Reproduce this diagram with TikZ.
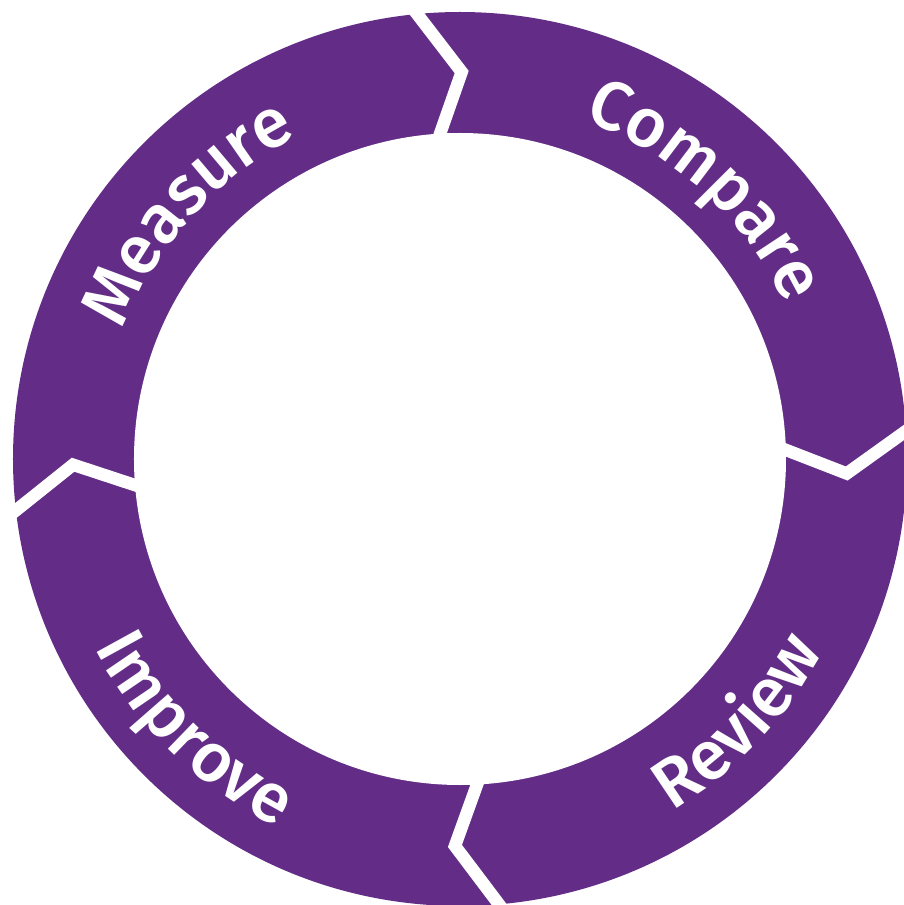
\documentclass[tikz,border=0pt]{standalone}
\usepackage{fontspec}
\setmainfont{Fira Sans Medium}
\usetikzlibrary{decorations.text,calc}
\definecolor{ringpurple}{HTML}{632D87}
\begin{document}
\begin{tikzpicture}[x=1pt,y=1pt,
  sepline/.style={white,line width=12.5pt,line join=miter},
  ringtext/.style={decorate,decoration={text along path,text align=center,
    text={|\fontsize{69}{69}\selectfont\color{white}|#1}}}]
\useasboundingbox (-460,-446) rectangle (443,459);
\fill[ringpurple] (0,0) circle (447);
\fill[white] (0,0) circle (326);
\foreach \p/\n in {93.5/t,1.6/r,273/b,184.6/l}{
  \coordinate (o\n) at (\p+2:447);
  \coordinate (a\n) at (\p-3.75:387);
  \coordinate (i\n) at (\p:326);
  \draw[sepline] ($(a\n)!1.5!(o\n)$) -- (a\n) -- ($(a\n)!1.3!(i\n)$);
}
\path[ringtext=Measure] (197.9:361) arc[start angle=197.9, end angle=77.9, radius=361];
\path[ringtext=Compare] (107.7:361) arc[start angle=107.7, end angle=-12.3, radius=361];
\path[ringtext=Improve] (165.5:411) arc[start angle=165.5, end angle=285.5, radius=411];
\path[ringtext=Review] (256.6:411) arc[start angle=256.6, end angle=376.6, radius=411];
\end{tikzpicture}
\end{document}
